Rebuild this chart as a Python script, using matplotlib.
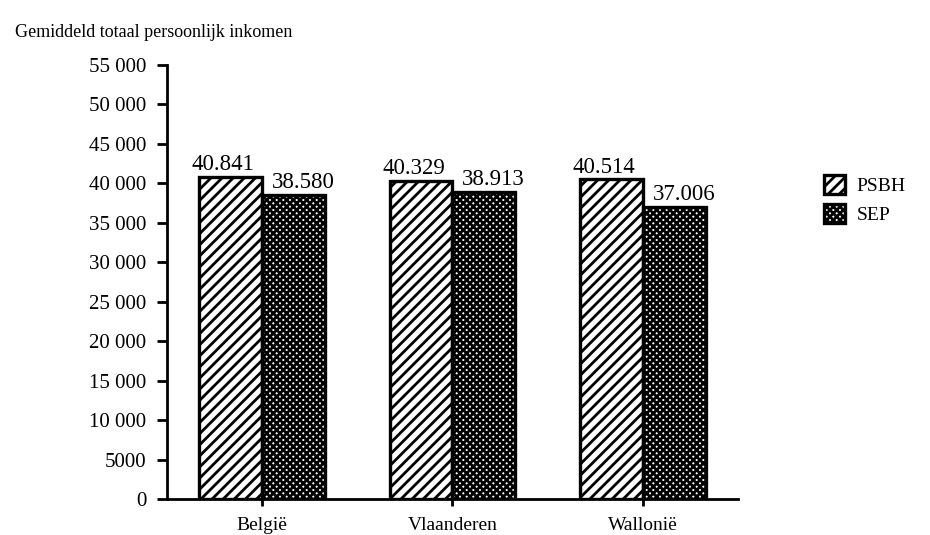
import numpy as np
import matplotlib.pyplot as plt
import matplotlib as mpl

# data
regions = ['België', 'Vlaanderen', 'Wallonië']
psbh = [40841, 40329, 40514]
sep = [38580, 38913, 37006]
psbh_labels = ['40.841', '40.329', '40.514']
sep_labels = ['38.580', '38.913', '37.006']
yticks = list(range(0, 55001, 5000))
ytick_labels = ['0', '5000', '10 000', '15 000', '20 000', '25 000', '30 000',
                '35 000', '40 000', '45 000', '50 000', '55 000']

plt.rcParams['font.family'] = ['Liberation Serif', 'DejaVu Serif']
mpl.rcParams['hatch.linewidth'] = 2.0

fig = plt.figure(figsize=(9.3, 5.35), dpi=100)
ax = fig.add_axes([0.1796, 0.0673, 0.6139, 0.8112])

x = np.arange(len(regions))
w = 0.33
b1 = ax.bar(x - w / 2, psbh, w, facecolor='white', edgecolor='black',
            linewidth=2.4, hatch='///', label='PSBH')
b2 = ax.bar(x + w / 2, sep, w, facecolor='white', edgecolor='black',
            linewidth=2.4, hatch='xxxxx', label='SEP')

for rect, lab in zip(b1, psbh_labels):
    ax.text(rect.get_x() + rect.get_width() / 2 - 0.04, rect.get_height() + 200, lab,
            ha='center', va='bottom', fontsize=16.5)
for rect, lab in zip(b2, sep_labels):
    ax.text(rect.get_x() + rect.get_width() / 2 + 0.05, rect.get_height() + 200, lab,
            ha='center', va='bottom', fontsize=16.5)

ax.set_xlim(-0.5, 2.5)
ax.set_ylim(0, 55000)
ax.set_yticks(yticks)
ax.set_yticklabels(ytick_labels, fontsize=15)
ax.set_xticks(x)
ax.set_xticklabels(regions, fontsize=14)
ax.tick_params(axis='y', direction='out', length=7, width=2, pad=8)
ax.tick_params(axis='x', direction='out', length=5, width=2, pad=8)
for s in ['top', 'right']:
    ax.spines[s].set_visible(False)
for s in ['left', 'bottom']:
    ax.spines[s].set_linewidth(2)

fig.text(0.016, 0.94, 'Gemiddeld totaal persoonlijk inkomen', fontsize=13,
         ha='left', va='center')

fig.legend(handles=[b1, b2], loc='upper left', bbox_to_anchor=(0.867, 0.705),
           frameon=False, fontsize=14, handlelength=1.1, handleheight=1.1,
           labelspacing=0.45, handletextpad=0.6)

fig.savefig('out.png', dpi=100)
